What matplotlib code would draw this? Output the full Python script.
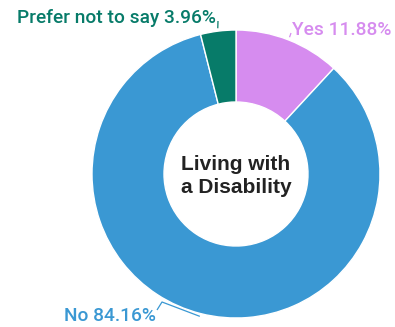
import numpy as np
import matplotlib.pyplot as plt

labels = ["Yes", "No", "Prefer not to say"]
shares = [11.88, 84.16, 3.96]
colors = ["#d68cef", "#3a98d3", "#077b69"]
center_title = "Living with\na Disability"

W, H = 395, 327
cx, cy, R = 236, 174, 144


def px(x, y):
    # pixel position in the reference -> data coords (radius 1 = outer edge)
    return (x - cx) / R, (cy - y) / R


fig = plt.figure(figsize=(W / 100, H / 100), dpi=100)
ax = fig.add_axes([0, 0, 1, 1])

wedges, _ = ax.pie(
    shares, colors=colors, startangle=90, counterclock=False, radius=1,
    wedgeprops=dict(width=0.5, edgecolor="white", linewidth=1),
)
ax.set_xlim(-cx / R, (W - cx) / R)
ax.set_ylim(-(H - cy) / R, cy / R)
ax.set_aspect("equal")
ax.axis("off")

# label layout: (label anchor px, alignment, elbow px or None)
layout = {
    "Yes": ((292, 30), "left", None),
    "No": ((156, 316), "right", (162, 302)),
    "Prefer not to say": ((216, 18), "right", None),
}

for w, lab, val, col in zip(wedges, labels, shares, colors):
    mid = np.deg2rad((w.theta1 + w.theta2) / 2)
    start = (1.02 * np.cos(mid), 1.02 * np.sin(mid))
    (tx, ty), ha, elbow = layout[lab]
    pts = [start]
    if elbow is not None:
        pts.append(px(*elbow))
        pts.append(px(tx + 1, ty - 6))
    else:
        end = px(tx + (-1 if ha == "left" else 2), ty + 3)
        pts.append(end)
    xs, ys = zip(*pts)
    ax.plot(xs, ys, color=col, lw=0.9, solid_capstyle="butt")
    ax.text(*px(tx, ty), f"{lab} {val:.2f}%", color=col, ha=ha, va="center",
            fontsize=13.8, fontfamily="Roboto", fontweight="medium")

ax.text(*px(cx, 176), center_title, ha="center", va="center", fontsize=15,
        fontfamily="Liberation Sans", fontweight="bold", color="#222222",
        linespacing=1.3)

fig.savefig("out.png", dpi=100)
